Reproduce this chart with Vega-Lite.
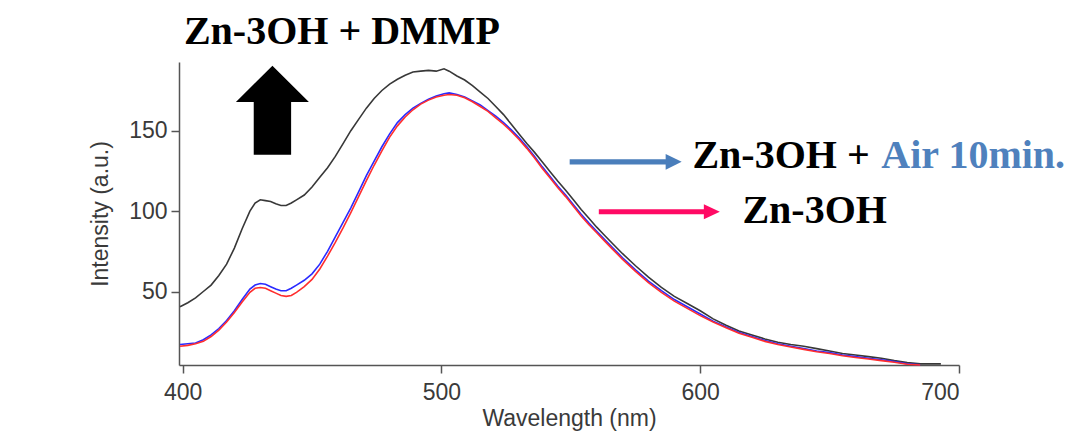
{
  "$schema": "https://vega.github.io/schema/vega-lite/v6.json",
  "width": 780,
  "height": 303,
  "autosize": {"type": "none"},
  "padding": {"left": 179, "top": 62, "right": 116, "bottom": 74},
  "background": "white",
  "config": {
    "view": {"stroke": null},
    "axis": {
      "domainColor": "#555555",
      "domainWidth": 1.5,
      "tickColor": "#555555",
      "tickWidth": 1.5,
      "tickSize": 8,
      "grid": false,
      "labelFont": "Liberation Sans",
      "labelFontSize": 23,
      "labelColor": "#3a3a3a",
      "titleFont": "Liberation Sans",
      "titleFontSize": 23,
      "titleFontWeight": "normal",
      "titleColor": "#3a3a3a"
    }
  },
  "datasets": {
    "spectra": [
      {"wl": 399, "DMMP": 40.5, "Air": 17, "ZnOH": 16},
      {"wl": 402, "DMMP": 43, "Air": 17.5, "ZnOH": 16.5},
      {"wl": 405, "DMMP": 46, "Air": 18, "ZnOH": 17.5},
      {"wl": 408, "DMMP": 50, "Air": 20, "ZnOH": 19},
      {"wl": 411, "DMMP": 54, "Air": 23, "ZnOH": 22},
      {"wl": 414, "DMMP": 60, "Air": 27, "ZnOH": 26},
      {"wl": 417, "DMMP": 67, "Air": 32, "ZnOH": 31},
      {"wl": 420, "DMMP": 77, "Air": 38, "ZnOH": 37},
      {"wl": 423, "DMMP": 89, "Air": 45, "ZnOH": 43.5},
      {"wl": 426, "DMMP": 100, "Air": 51.5, "ZnOH": 49.5},
      {"wl": 428, "DMMP": 105, "Air": 54, "ZnOH": 52},
      {"wl": 430, "DMMP": 107, "Air": 55, "ZnOH": 52.5},
      {"wl": 432, "DMMP": 106.5, "Air": 54.5, "ZnOH": 52},
      {"wl": 434, "DMMP": 106, "Air": 53, "ZnOH": 50.5},
      {"wl": 436, "DMMP": 104.5, "Air": 51.5, "ZnOH": 49},
      {"wl": 438, "DMMP": 103.5, "Air": 50.5, "ZnOH": 47.5},
      {"wl": 440, "DMMP": 103.5, "Air": 50.5, "ZnOH": 47},
      {"wl": 442, "DMMP": 105, "Air": 52, "ZnOH": 47.5},
      {"wl": 444, "DMMP": 107, "Air": 54, "ZnOH": 49.5},
      {"wl": 447, "DMMP": 110, "Air": 57, "ZnOH": 53},
      {"wl": 450, "DMMP": 115, "Air": 61, "ZnOH": 57.5},
      {"wl": 453, "DMMP": 121, "Air": 67, "ZnOH": 64},
      {"wl": 456, "DMMP": 127, "Air": 75, "ZnOH": 72},
      {"wl": 459, "DMMP": 134, "Air": 84, "ZnOH": 80.5},
      {"wl": 462, "DMMP": 142, "Air": 93, "ZnOH": 89.5},
      {"wl": 465, "DMMP": 150, "Air": 102, "ZnOH": 99},
      {"wl": 468, "DMMP": 157, "Air": 112, "ZnOH": 109},
      {"wl": 471, "DMMP": 164, "Air": 122, "ZnOH": 119},
      {"wl": 474, "DMMP": 170, "Air": 131, "ZnOH": 128.5},
      {"wl": 477, "DMMP": 175, "Air": 140, "ZnOH": 137.5},
      {"wl": 480, "DMMP": 179, "Air": 148, "ZnOH": 146},
      {"wl": 483, "DMMP": 182, "Air": 155, "ZnOH": 153},
      {"wl": 486, "DMMP": 184.5, "Air": 160, "ZnOH": 158.5},
      {"wl": 489, "DMMP": 186.5, "Air": 164, "ZnOH": 163},
      {"wl": 492, "DMMP": 187, "Air": 167, "ZnOH": 166.5},
      {"wl": 495, "DMMP": 187.5, "Air": 169.5, "ZnOH": 169},
      {"wl": 498, "DMMP": 187, "Air": 171.5, "ZnOH": 171},
      {"wl": 501, "DMMP": 188.5, "Air": 173, "ZnOH": 172},
      {"wl": 503, "DMMP": 187, "Air": 173.5, "ZnOH": 172.5},
      {"wl": 506, "DMMP": 184, "Air": 172.5, "ZnOH": 172},
      {"wl": 509, "DMMP": 181.5, "Air": 171, "ZnOH": 170.5},
      {"wl": 512, "DMMP": 178, "Air": 168.5, "ZnOH": 168},
      {"wl": 515, "DMMP": 174, "Air": 166, "ZnOH": 165},
      {"wl": 518, "DMMP": 170, "Air": 162.5, "ZnOH": 162},
      {"wl": 521, "DMMP": 165, "Air": 159, "ZnOH": 158},
      {"wl": 524, "DMMP": 160, "Air": 155, "ZnOH": 154},
      {"wl": 527, "DMMP": 154, "Air": 150.5, "ZnOH": 149.5},
      {"wl": 530, "DMMP": 148, "Air": 145.5, "ZnOH": 144.5},
      {"wl": 533, "DMMP": 142, "Air": 140, "ZnOH": 139},
      {"wl": 536, "DMMP": 136.5, "Air": 134, "ZnOH": 133},
      {"wl": 539, "DMMP": 130.5, "Air": 127.5, "ZnOH": 126.5},
      {"wl": 542, "DMMP": 124.5, "Air": 121.5, "ZnOH": 120.5},
      {"wl": 545, "DMMP": 118.5, "Air": 115.5, "ZnOH": 114.5},
      {"wl": 548, "DMMP": 113, "Air": 110, "ZnOH": 109},
      {"wl": 551, "DMMP": 107, "Air": 104, "ZnOH": 103},
      {"wl": 554, "DMMP": 101, "Air": 98, "ZnOH": 97},
      {"wl": 557, "DMMP": 95.5, "Air": 92.5, "ZnOH": 91.5},
      {"wl": 560, "DMMP": 90, "Air": 87.5, "ZnOH": 86.5},
      {"wl": 563, "DMMP": 85, "Air": 82.5, "ZnOH": 81.5},
      {"wl": 566, "DMMP": 80, "Air": 77.5, "ZnOH": 76.5},
      {"wl": 570, "DMMP": 73.5, "Air": 71, "ZnOH": 70},
      {"wl": 575, "DMMP": 66, "Air": 63.5, "ZnOH": 62.5},
      {"wl": 580, "DMMP": 59, "Air": 56.5, "ZnOH": 55.5},
      {"wl": 585, "DMMP": 52.5, "Air": 50.5, "ZnOH": 49.5},
      {"wl": 590, "DMMP": 47, "Air": 45, "ZnOH": 44},
      {"wl": 595, "DMMP": 42.5, "Air": 40.5, "ZnOH": 39.5},
      {"wl": 600, "DMMP": 38, "Air": 36, "ZnOH": 35},
      {"wl": 605, "DMMP": 33, "Air": 31.5, "ZnOH": 31},
      {"wl": 610, "DMMP": 29, "Air": 28, "ZnOH": 27.5},
      {"wl": 615, "DMMP": 25.5, "Air": 24.5, "ZnOH": 24},
      {"wl": 620, "DMMP": 23, "Air": 22, "ZnOH": 21.5},
      {"wl": 625, "DMMP": 20.5, "Air": 19.5, "ZnOH": 19},
      {"wl": 630, "DMMP": 18.5, "Air": 17.5, "ZnOH": 17},
      {"wl": 635, "DMMP": 17, "Air": 16, "ZnOH": 15.5},
      {"wl": 640, "DMMP": 16, "Air": 14.5, "ZnOH": 14},
      {"wl": 645, "DMMP": 14.5, "Air": 13, "ZnOH": 12.5},
      {"wl": 650, "DMMP": 13, "Air": 12, "ZnOH": 11.5},
      {"wl": 655, "DMMP": 11.5, "Air": 10.5, "ZnOH": 10},
      {"wl": 660, "DMMP": 10.5, "Air": 9.5, "ZnOH": 9},
      {"wl": 665, "DMMP": 9.5, "Air": 8.5, "ZnOH": 8},
      {"wl": 670, "DMMP": 8.5, "Air": 7.5, "ZnOH": 7},
      {"wl": 675, "DMMP": 7, "Air": 6.5, "ZnOH": 6},
      {"wl": 680, "DMMP": 5.8, "Air": 5, "ZnOH": 4.8},
      {"wl": 685, "DMMP": 5, "Air": 4.5, "ZnOH": 4.3},
      {"wl": 690, "DMMP": 5},
      {"wl": 693, "DMMP": 5}
    ]
  },
  "layer": [
    {
      "data": {"name": "spectra"},
      "transform": [
        {"fold": ["DMMP", "Air", "ZnOH"], "as": ["series", "intensity"]},
        {"filter": "isValid(datum.intensity)"}
      ],
      "mark": {"type": "line", "strokeWidth": 1.6},
      "encoding": {
        "x": {
          "field": "wl", "type": "quantitative",
          "scale": {"domain": [398.6, 700], "nice": false, "zero": false},
          "axis": {"values": [400, 500, 600, 700], "title": "Wavelength (nm)", "labelPadding": 8, "titlePadding": 3}
        },
        "y": {
          "field": "intensity", "type": "quantitative",
          "scale": {"domain": [4.3, 192.7], "nice": false, "zero": false},
          "axis": {"values": [50, 100, 150], "title": "Intensity (a.u.)", "labelPadding": 4, "titlePadding": 16}
        },
        "color": {
          "field": "series", "type": "nominal",
          "scale": {"domain": ["DMMP", "Air", "ZnOH"], "range": ["#383838", "#2a2aff", "#ff2e2e"]},
          "legend": null
        }
      }
    },
    {
      "data": {"values": [{"wl": 434.7, "intensity": 162.7}]},
      "mark": {"type": "point", "shape": "M0,-1 L0.82,-0.187 L0.42,-0.187 L0.42,1 L-0.42,1 L-0.42,-0.187 L-0.82,-0.187 Z", "size": 7921, "filled": true, "color": "#000000", "opacity": 1, "strokeWidth": 0},
      "encoding": {"x": {"field": "wl", "type": "quantitative"}, "y": {"field": "intensity", "type": "quantitative"}}
    },
    {
      "data": {"values": [{"wl": 571.2, "intensity": 130.6}]},
      "mark": {"type": "point", "shape": "M-1,-0.046 L0.714,-0.046 L0.714,-0.14 L1,0 L0.714,0.14 L0.714,0.046 L-1,0.046 Z", "size": 12544, "filled": true, "color": "#4a7ebb", "opacity": 1, "strokeWidth": 0},
      "encoding": {"x": {"field": "wl", "type": "quantitative"}, "y": {"field": "intensity", "type": "quantitative"}}
    },
    {
      "data": {"values": [{"wl": 584.2, "intensity": 99.6}]},
      "mark": {"type": "point", "shape": "M-1,-0.043 L0.736,-0.043 L0.736,-0.124 L1,0 L0.736,0.124 L0.736,0.043 L-1,0.043 Z", "size": 14641, "filled": true, "color": "#ff0a64", "opacity": 1, "strokeWidth": 0},
      "encoding": {"x": {"field": "wl", "type": "quantitative"}, "y": {"field": "intensity", "type": "quantitative"}}
    },
    {
      "data": {"values": [
        {"wl": 400.5, "intensity": 204.2, "label": "Zn-3OH + DMMP"},
        {"wl": 597.0, "intensity": 127.1, "label": "Zn-3OH + "},
        {"wl": 616.3, "intensity": 92.4, "label": "Zn-3OH"}
      ]},
      "mark": {"type": "text", "font": "Liberation Serif", "fontWeight": "bold", "fontSize": 40, "align": "left", "baseline": "alphabetic", "color": "#000000"},
      "encoding": {"x": {"field": "wl", "type": "quantitative"}, "y": {"field": "intensity", "type": "quantitative"}, "text": {"field": "label"}}
    },
    {
      "data": {"values": [{"wl": 670.0, "intensity": 127.1, "label": "Air 10min."}]},
      "mark": {"type": "text", "font": "Liberation Serif", "fontWeight": "bold", "fontSize": 40, "align": "left", "baseline": "alphabetic", "color": "#4f81bd"},
      "encoding": {"x": {"field": "wl", "type": "quantitative"}, "y": {"field": "intensity", "type": "quantitative"}, "text": {"field": "label"}}
    }
  ]
}
